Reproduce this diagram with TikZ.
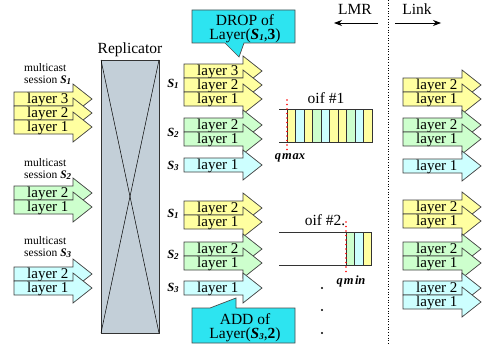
\documentclass[tikz,border=0pt]{standalone}
\usepackage{fontspec}
\setmainfont{Liberation Serif}
\usetikzlibrary{arrows.meta}
\definecolor{ly}{RGB}{255,255,160}
\definecolor{lg}{RGB}{205,255,205}
\definecolor{lc}{RGB}{205,255,255}
\definecolor{callc}{RGB}{45,228,240}
\definecolor{repc}{RGB}{195,207,216}
\newcommand{\Ss}[1]{\textbf{\textit{S}}\raisebox{-0.25ex}{\fontsize{9}{9}\selectfont\textbf{\textit{#1}}}}
\newcommand{\lay}[5]{%
  \draw[arrbody, fill=#3] (#1,#2) -- (#1+59,#2) -- (#1+59,#2-8) -- (#1+78,#2+7) -- (#1+59,#2+22) -- (#1+59,#2+14) -- (#1,#2+14) -- cycle;
  \node[laytxt] (#5) at (#1+13,#2+7.5) {#4};
}
\begin{document}
\begin{tikzpicture}[x=1pt,y=-1pt,
  arrbody/.style={draw=black!75, line width=0.7pt},
  laytxt/.style={anchor=west, inner sep=0pt, font=\rmfamily\fontsize{15}{15}\selectfont},
  small/.style={inner sep=0pt, font=\rmfamily\fontsize{11.5}{11.5}\selectfont},
  big/.style={inner sep=0pt, font=\rmfamily\fontsize{15.5}{15.5}\selectfont},
  slab/.style={inner sep=0pt, font=\rmfamily\fontsize{12.5}{12.5}\selectfont},
  callout/.style={draw=black!70, line width=0.7pt, fill=callc},
  reddot/.style={red, line width=1.6pt, dash pattern=on 0pt off 4.5pt, line cap=round},
  cell/.style={draw=black!80, line width=0.7pt}
]
\useasboundingbox (0,0) rectangle (486,345);
\fill[white] (0,0) rectangle (486,345);

% Replicator
\node[big] (reptitle) at (130,50) {Replicator};
\draw[fill=repc, draw=black!80, line width=0.7pt] (101,60) rectangle (159,333);
\coordinate (rtl) at (101,60); \coordinate (rtr) at (159,60);
\coordinate (rbl) at (101,333); \coordinate (rbr) at (159,333);
\draw[line width=0.5pt] (rtl) -- (rbr);
\draw[line width=0.5pt] (rtr) -- (rbl);

% Left inputs
\node[small, anchor=west] (m1) at (24,68) {multicast};
\node[small, anchor=west] (s1) at (24,80.5) {session \Ss{1}};
\lay{14}{92}{ly}{layer 3}{a13}
\lay{14}{106}{ly}{layer 2}{a12}
\lay{14}{120}{ly}{layer 1}{a11}

\node[small, anchor=west] (m2) at (24,163) {multicast};
\node[small, anchor=west] (s2) at (24,175.5) {session \Ss{2}};
\lay{14}{186}{lg}{layer 2}{a22}
\lay{14}{200}{lg}{layer 1}{a21}

\node[small, anchor=west] (m3) at (24,241) {multicast};
\node[small, anchor=west] (s3) at (24,253.5) {session \Ss{3}};
\lay{14}{267}{lc}{layer 2}{a32}
\lay{14}{281}{lc}{layer 1}{a31}

% Middle top
\node[slab] (ms1) at (173,84) {\Ss{1}};
\lay{184}{64}{ly}{layer 3}{b13}
\lay{184}{78}{ly}{layer 2}{b12}
\lay{184}{92}{ly}{layer 1}{b11}
\node[slab] (ms2) at (173,133) {\Ss{2}};
\lay{184}{118}{lg}{layer 2}{b22}
\lay{184}{132}{lg}{layer 1}{b21}
\node[slab] (ms3) at (173,166) {\Ss{3}};
\lay{184}{158}{lc}{layer 1}{b31}

% Middle bottom
\node[slab] (ns1) at (173,214) {\Ss{1}};
\lay{184}{201}{ly}{layer 2}{c12}
\lay{184}{215}{ly}{layer 1}{c11}
\node[slab] (ns2) at (173,255) {\Ss{2}};
\lay{184}{242}{lg}{layer 2}{c22}
\lay{184}{256}{lg}{layer 1}{c21}
\node[slab] (ns3) at (173,288) {\Ss{3}};
\lay{184}{281}{lc}{layer 1}{c31}

% Right top
\lay{403}{78}{ly}{layer 2}{d12}
\lay{403}{92}{ly}{layer 1}{d11}
\lay{403}{118}{lg}{layer 2}{d22}
\lay{403}{132}{lg}{layer 1}{d21}
\lay{403}{159}{lc}{layer 1}{d31}

% Right bottom
\lay{403}{200}{ly}{layer 2}{e12}
\lay{403}{214}{ly}{layer 1}{e11}
\lay{403}{242}{lg}{layer 2}{e22}
\lay{403}{256}{lg}{layer 1}{e21}
\lay{403}{281}{lc}{layer 2}{e32}
\lay{403}{295}{lc}{layer 1}{e31}

% oif #1
\node[big] (oif1) at (326,98) {oif \#1};
\draw[line width=0.7pt, draw=black!80] (279,109) -- (372,109);
\draw[line width=0.7pt, draw=black!80] (279,142) -- (372,142);
\foreach \c [count=\i from 0] in {ly,lc,ly,lg,lc,ly,ly,lg,lc,ly} {
  \draw[cell, fill=\c] (287+\i*8.5,109) rectangle (287+\i*8.5+8.5,142);
}
\coordinate (q1t) at (287,100); \coordinate (q1b) at (287,151);
\draw[reddot] (q1t) -- (q1b);
\node[slab] (qmax) at (290,158) {\textbf{\textit{q\kern0.08em m\kern0.05em ax}}};

% oif #2
\node[big] (oif2) at (325,220) {oif \#2.};
\draw[line width=0.7pt, draw=black!80] (279,232) -- (372,232);
\draw[line width=0.7pt, draw=black!80] (279,265) -- (372,265);
\foreach \c [count=\i from 0] in {lg,lc,ly} {
  \draw[cell, fill=\c] (346+\i*8.5,232) rectangle (346+\i*8.5+8.5,265);
}
\coordinate (q2t) at (346,222); \coordinate (q2b) at (346,274);
\draw[reddot] (q2t) -- (q2b);
\node[slab] (qmin) at (351,281) {\textbf{\textit{q\kern0.08em m\kern0.12em in}}};

% dots
\foreach \yy [count=\k] in {288,310,333} {
  \fill (322,\yy) circle (1.2pt) coordinate (dot\k);
}

% LMR / Link
\draw[dotted, line width=0.7pt] (388,0) -- (388,345);
\node[big] (lmr) at (355,9) {LMR};
\node[big] (link) at (417,9) {Link};
\coordinate (lmrA) at (378,23); \coordinate (lmrB) at (334,23);
\coordinate (linkA) at (395,23); \coordinate (linkB) at (441,23);
\draw[line width=0.8pt, -{Stealth[length=8pt,width=6pt]}] (lmrA) -- (lmrB);
\draw[line width=0.8pt, -{Stealth[length=8pt,width=6pt]}] (linkA) -- (linkB);

% DROP callout
\draw[callout] (192,10) -- (295,10) -- (295,43) -- (244,43) -- (239,57) -- (225,43) -- (192,43) -- cycle;
\node[big] (drop1) at (245,20) {DROP of};
\node[big] (drop2) at (245,35.5) {Layer(\Ss{1},\textbf{3})};

% ADD callout
\draw[callout] (192,308) -- (210,308) -- (236,298) -- (236,308) -- (295,308) -- (295,343) -- (192,343) -- cycle;
\node[big] (add1) at (245,319) {ADD of};
\node[big] (add2) at (245,334.5) {Layer(\Ss{3},\textbf{2})};
\end{tikzpicture}
\end{document}
